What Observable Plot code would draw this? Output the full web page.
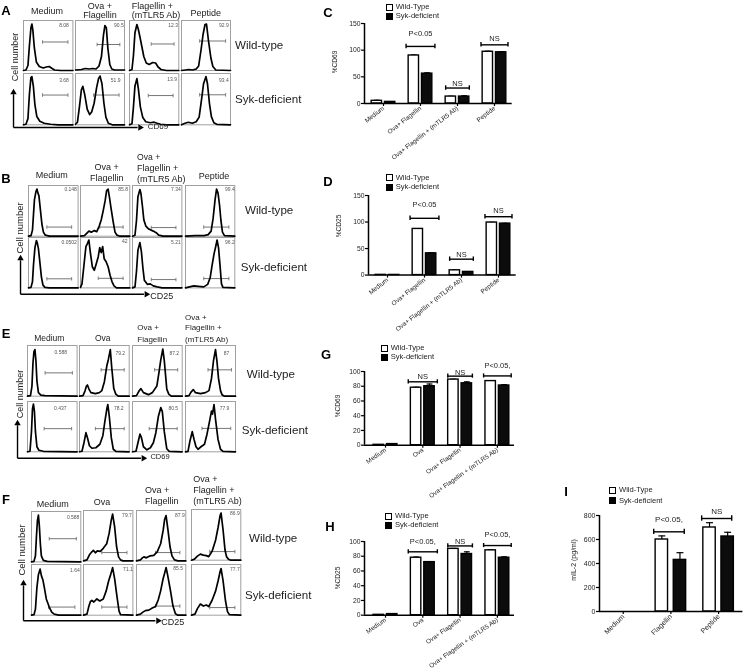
<!DOCTYPE html>
<html><head><meta charset="utf-8">
<script src="https://cdn.jsdelivr.net/npm/d3@7"></script>
<script src="https://cdn.jsdelivr.net/npm/@observablehq/plot@0.6"></script>
<style>
html,body{margin:0;padding:0;background:#fff;overflow:hidden}
#page{position:relative;width:743px;height:672px;overflow:hidden;font-family:"Liberation Sans",Arial,sans-serif;color:#222;filter:blur(.3px)}
#page svg{position:absolute;overflow:visible;background:transparent;max-width:none}
.t{position:absolute;white-space:pre;line-height:1}
.sw{position:absolute;box-sizing:border-box;width:7px;height:7px;border:1.5px solid #000}
</style></head><body><div id="page"></div>
<script>
// ---------- histogram data: flat x,y pairs, fractions of each panel ----------
const pctA=["8.08","90.5","12.3","92.9","3.68","51.9","13.9","93.4"];
const pctB=["0.148","85.8","7.34","99.4","0.0502","42","5.21","96.2"];
const pctE=["0.588","79.2","87.2","87","0.437","78.2","80.5","77.9"];
const pctF=["0.588","79.7","87.9","86.9","1.64","71.1","85.5","77.7"];

const curvesA=[
[0,0,.05,.01,.09,.1,.12,.5,.15,.85,.17,.93,.19,.8,.22,.45,.26,.17,.32,.08,.4,.05,.46,.07,.52,.08,.58,.04,.63,.01,.75,0,1,0],
[0,.01,.12,.02,.2,.04,.28,.03,.35,.04,.42,.03,.48,.09,.53,.28,.57,.7,.6,.9,.63,.85,.66,.45,.7,.12,.74,.03,.8,.01,1,.01],
[0,0,.05,.02,.08,.3,.11,.75,.15,.92,.18,.82,.21,.68,.25,.48,.29,.28,.34,.15,.4,.12,.47,.16,.53,.15,.58,.07,.64,.02,.75,0,1,0],
[0,0,.08,.01,.15,.02,.22,.01,.3,.03,.35,.09,.4,.42,.44,.72,.48,.92,.51,.93,.55,.6,.6,.25,.64,.08,.7,.01,1,0],
[0,0,.05,.01,.09,.12,.12,.6,.15,.92,.17,.94,.2,.75,.23,.4,.27,.16,.33,.07,.42,.03,.55,.01,.7,0,1,0],
[0,.01,.04,.05,.08,.35,.12,.68,.15,.75,.19,.58,.24,.3,.29,.2,.33,.25,.38,.42,.43,.72,.47,.9,.5,.95,.54,.8,.58,.42,.62,.15,.67,.03,.75,0,1,0],
[0,0,.05,.02,.08,.35,.11,.75,.15,.9,.18,.7,.22,.35,.27,.14,.33,.06,.42,.04,.5,.05,.56,.03,.63,.01,.75,0,1,0],
[0,0,.07,.03,.14,.05,.22,.03,.3,.06,.36,.15,.41,.5,.45,.8,.5,.94,.53,.8,.57,.42,.61,.16,.66,.04,.72,.01,1,0]];
const curvesB=[
[0,0,.05,.01,.08,.12,.1,.42,.12,.72,.15,.88,.17,.93,.19,.85,.21,.8,.24,.52,.27,.24,.3,.08,.34,.02,.42,0,1,0],
[0,0,.08,.01,.12,.05,.17,.1,.22,.08,.28,.11,.33,.09,.38,.2,.42,.32,.46,.5,.5,.7,.53,.9,.56,.93,.59,.75,.62,.55,.66,.3,.7,.08,.74,.02,.8,0,1,0],
[0,0,.05,.02,.08,.3,.11,.78,.15,.92,.17,.85,.2,.6,.23,.32,.27,.2,.33,.14,.42,.1,.48,.07,.53,.02,.62,0,1,0],
[0,0,.2,.01,.38,.01,.46,.03,.52,.1,.56,.35,.6,.72,.63,.93,.66,.85,.69,.62,.72,.3,.75,.08,.79,.01,1,0],
[0,0,.05,.01,.08,.12,.1,.45,.13,.8,.16,.94,.18,.88,.2,.78,.23,.5,.26,.22,.29,.06,.33,.01,.42,0,1,0],
[0,.01,.03,.08,.07,.45,.11,.82,.14,.88,.17,.95,.2,.7,.24,.42,.28,.35,.32,.48,.36,.62,.39,.8,.42,.7,.45,.82,.48,.58,.52,.52,.56,.42,.6,.25,.64,.12,.68,.04,.73,0,1,0],
[0,0,.05,.02,.08,.32,.11,.75,.15,.9,.18,.72,.21,.4,.24,.15,.3,.07,.36,.08,.42,.04,.5,.02,.6,0,1,0],
[0,0,.08,.02,.17,.04,.26,.03,.37,.02,.45,.07,.5,.2,.54,.45,.58,.68,.62,.85,.64,.95,.67,.8,.7,.45,.73,.08,.76,.01,1,0]];
const curvesE=[
[0,0,.06,.01,.09,.2,.11,.65,.13,.88,.15,.92,.17,.7,.19,.3,.22,.07,.27,.02,.35,.01,1,0],
[0,0,.07,.01,.11,.1,.14,.2,.16,.22,.19,.14,.23,.07,.32,.05,.4,.07,.45,.11,.5,.28,.55,.6,.58,.72,.62,.92,.65,.55,.69,.15,.73,.04,.78,0,1,0],
[0,0,.08,.01,.13,.1,.17,.15,.22,.07,.32,.03,.4,.07,.49,.2,.53,.45,.57,.72,.61,.93,.64,.7,.69,.14,.73,.04,.78,0,1,0],
[0,0,.07,.01,.11,.08,.155,.13,.2,.07,.3,.05,.4,.07,.47,.11,.52,.35,.56,.7,.6,.92,.63,.68,.66,.35,.7,.11,.73,.03,.78,0,1,0],
[0,0,.05,.01,.08,.4,.1,.85,.12,.95,.14,.8,.16,.4,.19,.1,.23,.03,.32,.01,1,0],
[0,0,.05,.01,.09,.18,.13,.38,.16,.28,.2,.12,.25,.07,.33,.08,.41,.15,.47,.32,.51,.6,.55,.85,.57,.94,.6,.7,.64,.28,.68,.05,.73,.01,1,0],
[0,0,.07,.01,.11,.18,.15,.35,.18,.28,.22,.1,.29,.04,.36,.08,.42,.18,.47,.38,.52,.7,.57,.88,.6,.8,.64,.4,.69,.06,.74,.01,1,0],
[0,0,.05,.01,.09,.22,.135,.4,.17,.25,.21,.1,.25,.05,.31,.1,.38,.15,.43,.35,.47,.55,.52,.81,.54,.75,.57,.94,.6,.65,.65,.25,.7,.05,.75,.01,1,0]];
const curvesF=[
[0,0,.05,.01,.08,.12,.1,.5,.12,.82,.14,.93,.16,.7,.18,.35,.2,.12,.24,.03,.32,.01,1,0],
[0,0,.07,.02,.12,.12,.17,.18,.2,.21,.24,.16,.28,.2,.34,.19,.4,.25,.47,.34,.52,.55,.56,.8,.59,.93,.63,.68,.67,.28,.71,.08,.75,.02,.8,0,1,0],
[0,0,.08,.02,.12,.06,.15,.08,.2,.06,.28,.1,.35,.11,.42,.18,.49,.34,.54,.6,.57,.82,.6,.9,.64,.6,.68,.28,.72,.1,.77,.02,.84,0,1,0],
[0,0,.06,.02,.12,.08,.18,.12,.24,.1,.3,.09,.35,.07,.42,.18,.49,.4,.54,.65,.58,.88,.6,.93,.64,.6,.68,.2,.71,.07,.75,.02,.8,0,1,0],
[0,0,.05,.01,.08,.12,.11,.55,.14,.8,.175,.91,.2,.78,.23,.7,.26,.55,.3,.32,.36,.16,.41,.06,.46,.02,.55,0,1,0],
[0,0,.07,.02,.11,.18,.14,.27,.17,.29,.21,.26,.27,.32,.33,.28,.4,.32,.46,.48,.51,.68,.55,.8,.59,.94,.63,.72,.68,.35,.72,.08,.75,.01,1,0],
[0,0,.08,.02,.13,.06,.18,.09,.25,.1,.32,.14,.385,.17,.44,.3,.49,.48,.54,.72,.58,.86,.6,.94,.63,.8,.69,.48,.74,.18,.79,.03,.84,0,1,0],
[0,0,.07,.02,.12,.13,.18,.22,.24,.18,.3,.2,.35,.17,.42,.3,.49,.48,.54,.68,.58,.86,.6,.92,.64,.68,.69,.28,.73,.07,.77,.01,1,0]];

// gate bars [x1,x2,y] and percent-label spots [x,y], panel fractions
const gatesA=[[.385,.9,.57],[.44,.905,.52],[.44,.905,.53],[.37,.9,.59],[.385,.9,.58],[.37,.89,.58],[.38,.885,.57],[.37,.9,.585]];
const gatesB=[[.37,.87,.18],[.39,.865,.18],[.38,.88,.17],[.37,.88,.18],[.37,.87,.18],[.36,.865,.19],[.38,.88,.165],[.37,.88,.185]];
const gatesE=[[.355,.905,.46],[.435,.9,.52],[.445,.91,.52],[.45,.92,.52],[.335,.89,.46],[.32,.9,.46],[.335,.9,.46],[.33,.905,.465]];
const gatesF=[[.36,.91,.46],[.37,.88,.165],[.385,.88,.165],[.37,.88,.17],[.345,.88,.16],[.37,.88,.16],[.385,.88,.18],[.37,.88,.15]];
const spotsA=[[.82,.9],[.885,.9],[.885,.9],[.865,.9],[.82,.86],[.82,.86],[.865,.89],[.865,.86]];
const spotsB=[[.85,.93],[.865,.93],[.88,.93],[.9,.93],[.82,.91],[.9,.93],[.88,.91],[.9,.91]];
const spotsE=[[.67,.87],[.82,.85],[.84,.85],[.82,.85],[.66,.86],[.79,.86],[.82,.86],[.78,.86]];
const spotsF=[[.845,.89],[.88,.91],[.88,.91],[.88,.93],[.88,.89],[.9,.91],[.845,.93],[.88,.91]];

// ---------- bar chart data ----------
const catsC=["Medium","Ova+ Flagellin","Ova+ Flagellin + (mTLR5 Ab)","Peptide"];
const catsG=["Medium","Ova","Ova+ Flagellin","Ova+ Flagellin + (mTLR5 Ab)"];
const catsI=["Medium","Flagellin","Peptide"];
const wtC=[5,90,13,97], kdC=[3,56,13,96], errWtC=[1,1,.5,1], errKdC=[.5,1.5,1.5,1];
const wtD=[.4,87,9,99], kdD=[.3,41,6,97], errWtD=[0,.5,.5,.5], errKdD=[0,.8,.5,.5];
const wtG=[.5,78,89,87], kdG=[1.5,80,84,81], errWtG=[0,.6,.6,.6], errKdG=[.2,3,2,1.2];
const wtH=[.5,78,90,88], kdH=[1.5,72,83,78], errWtH=[0,.8,.6,.8], errKdH=[.4,.5,3,1.2];
const wtI=[0,600,700], kdI=[0,430,625], errWtI=[0,30,40], errKdI=[0,60,35];
// brackets: category, half-span, bracket value, text value, text
const brC=[[1,.39,107,132,"P<0.05"],[2,.32,29,38,"NS"],[3,.365,110,122,"NS"]];
const brD=[[1,.39,107,132,"P<0.05"],[2,.32,30,38,"NS"],[3,.365,110,122,"NS"]];
const brG=[[1,.39,86,93,"NS"],[2,.33,93.7,99,"NS"],[3,.37,94,108.6,"P<0.05,"]];
const brH=[[1,.39,86,100.5,"P<0.05,"],[2,.33,94,99.5,"NS"],[3,.37,94.5,109,"P<0.05,"]];
const brI=[[.96,.32,664,769,"P<0.05,"],[1.96,.315,775,836,"NS"]];
const lg=["Wild-Type","Syk-deficient"];

// ---------- helpers ----------
const page=document.getElementById("page");
function put(text,x,y,o={}){
  const d=document.createElement("div");d.className="t";d.textContent=text;
  d.style.left=x+"px";d.style.top=y+"px";d.style.fontSize=(o.size||9)+"px";
  if(o.bold)d.style.fontWeight="bold";
  d.style.color=o.color||"#222";
  d.style.transform=(o.anchor==="start"?"translate(0,-50%)":"translate(-50%,-50%)")+(o.rot?` rotate(${o.rot}deg)`:"");
  page.appendChild(d);
}
function mount(svg,left,top){svg.style.left=left+"px";svg.style.top=top+"px";page.appendChild(svg);}

function hist(box,curve,gate,spot,pct){
  const [x0,y0,x1,y1]=box;
  const pts=d3.range(0,curve.length,2).map(i=>({x:curve[i],y:curve[i+1]}));
  const capH=.035;
  const svg=Plot.plot({width:x1-x0,height:y1-y0,margin:0,
    x:{domain:[0,1],axis:null},y:{domain:[0,1],axis:null},
    marks:[
      Plot.frame({stroke:"#a0a0a0",strokeWidth:1}),
      Plot.link([gate],{x1:d=>d[0],x2:d=>d[1],y1:d=>d[2],y2:d=>d[2],stroke:"#666",strokeWidth:.9}),
      Plot.link([gate[0],gate[1]].map(v=>({v,y:gate[2]})),{x1:"v",x2:"v",y1:d=>d.y-capH,y2:d=>d.y+capH,stroke:"#666",strokeWidth:.8}),
      Plot.line(pts,{x:"x",y:"y",stroke:"#000",strokeWidth:1.7}),
      Plot.text([pct],{x:()=>spot[0],y:()=>spot[1],text:d=>d,fontSize:5,fill:"#555",fontFamily:"Liberation Sans"})
    ]});
  mount(svg,x0,y0);
}
function block(cols,rows,curves,gates,spots,pcts){
  for(let i=0;i<8;i++){
    const c=cols[i%4], r=rows[i];
    hist([c[0],r[0],c[1],r[1]],curves[i],gates[i],spots[i],pcts[i]);
  }
}
function axesArrow(ox,oy,topY,rightX){
  const w=rightX-ox,h=oy-topY;
  const svg=Plot.plot({width:w,height:h,margin:0,x:{domain:[0,1],axis:null},y:{domain:[0,1],axis:null},
    marks:[
      Plot.link([[0,0,.98,0],[0,0,0,.95]],{x1:d=>d[0],y1:d=>d[1],x2:d=>d[2],y2:d=>d[3],stroke:"#000",strokeWidth:1.4}),
      Plot.dot([[1,0,90],[0,1,0]],{x:d=>d[0],y:d=>d[1],rotate:d=>d[2],symbol:"triangle",r:2.4,fill:"#000",stroke:"none"})
    ]});
  mount(svg,ox,topY);
}
function bars(L,cats,wt,kd,eW,eK,br,yTicks){
  const ml=30,mr=L.mr??8,mt=14,mb=78;
  const w=L.right-L.left+ml+mr,h=L.y0-L.yt+mt+mb;
  const off=L.off,bw=L.bw;
  const row=(vals,errs,sign,g)=>vals.map((v,i)=>({c:i,x:i+sign*off,v,e:errs[i],g}));
  const data=[...row(wt,eW,-1,"wt"),...row(kd,eK,1,"kd")];
  const withErr=data.filter(d=>d.e>0);
  const xd=[(L.left-L.t0)/L.step,(L.right-L.t0)/L.step];
  const capX=bw*.28;
  const font="Liberation Sans";
  const svg=Plot.plot({width:w,height:h,marginLeft:ml,marginRight:mr,marginTop:mt,marginBottom:mb,
    x:{domain:xd,axis:null},y:{domain:[0,L.ymax],axis:null},
    marks:[
      Plot.ruleX(withErr,{x:"x",y1:"v",y2:d=>d.v+d.e,stroke:"#000",strokeWidth:1.2}),
      Plot.link(withErr,{x1:d=>d.x-capX,x2:d=>d.x+capX,y1:d=>d.v+d.e,y2:d=>d.v+d.e,stroke:"#000",strokeWidth:1.2}),
      Plot.rectY(data.filter(d=>d.v>0),{x1:d=>d.x-bw/2,x2:d=>d.x+bw/2,y1:0,y2:"v",fill:d=>d.g==="wt"?"#fff":"#0c0c0c",stroke:"#000",strokeWidth:1.4}),
      Plot.ruleY([0],{stroke:"#000",strokeWidth:1.5}),
      Plot.ruleX([xd[0]],{y1:0,y2:L.ymax,stroke:"#000",strokeWidth:1.5}),
      Plot.axisY({ticks:yTicks,tickSize:3,tickPadding:1,label:null,fontSize:L.tf||6.8,fontFamily:font,stroke:"#000",strokeWidth:1.2,color:"#222"}),
      Plot.axisX({ticks:cats.map((_,i)=>i),tickFormat:i=>cats[i],tickSize:3,tickPadding:1,tickRotate:L.rot||-38,label:null,fontSize:L.cf||6.4,fontFamily:font,stroke:"#000",strokeWidth:1.2}),
      Plot.link(br,{x1:d=>d[0]-d[1],x2:d=>d[0]+d[1],y1:d=>d[2],y2:d=>d[2],stroke:"#000",strokeWidth:1.4}),
      Plot.ruleX(br.flatMap(d=>[{x:d[0]-d[1],y:d[2]},{x:d[0]+d[1],y:d[2]}]),{x:"x",y1:d=>d.y-L.ymax*.028,y2:d=>d.y+L.ymax*.028,stroke:"#000",strokeWidth:1.4}),
      Plot.text(br,{x:d=>d[0],y:d=>d[3],text:d=>d[4],fontSize:L.bf||7.5,fontFamily:font,fill:"#222"})
    ]});
  mount(svg,L.left-ml,L.yt-mt);
}
function legend(x,y1,y2,tx){
  const mk=(y,fill)=>{const s=document.createElement("div");s.className="sw";s.style.left=(x-3.5)+"px";s.style.top=(y-3.5)+"px";s.style.background=fill;page.appendChild(s);};
  mk(y1,"#fff");mk(y2,"#000");
  put(lg[0],tx,y1,{anchor:"start",size:7.6});put(lg[1],tx,y2,{anchor:"start",size:7.6});
}

// ---------- panel letters ----------
[["A",6,10],["C",328,12],["B",6,178],["D",328,181],["E",6,333],["G",326,354],["F",6,499],["H",330,526],["I",566,491]]
  .forEach(([t,x,y])=>put(t,x,y,{size:13,bold:true,color:"#000"}));

// ---------- block A ----------
block([[23.3,72.7],[75,124],[129,178.3],[181,230]],
  Array(4).fill([20,70]).concat(Array(4).fill([72.7,124])),curvesA,gatesA,spotsA,pctA);
put("Medium",47,11);put("Ova +",100,5.5);put("Flagellin",100,14.5);
put("Flagellin +",131.7,5.5,{anchor:"start"});put("(mTLR5 Ab)",131.7,14.5,{anchor:"start"});put("Peptide",205.7,13);
put("Wild-type",235,45,{anchor:"start",size:11.6});put("Syk-deficient",235,99,{anchor:"start",size:11.6});
axesArrow(13.3,126.7,91.7,140);put("Cell number",15,56.7,{rot:-90});put("CD69",158,127,{size:8});

// ---------- block B ----------
block([[27.7,77.3],[80,129.3],[132.3,181.7],[185,234.3]],
  Array(4).fill([185,235.7]).concat(Array(4).fill([237.3,287.7])),curvesB,gatesB,spotsB,pctB);
put("Medium",51.7,175);put("Ova +",106.7,167);put("Flagellin",106.7,178);
put("Ova +",137,157,{anchor:"start",size:8.6});put("Flagellin +",137,168,{anchor:"start"});put("(mTLR5 Ab)",137,179,{anchor:"start"});put("Peptide",214,175.7);
put("Wild-type",245,210,{anchor:"start",size:11.6});put("Syk-deficient",240.7,266.7,{anchor:"start",size:11.6});
axesArrow(20,294,258.3,146);put("Cell number",20,228,{rot:-90,size:9.5});put("CD25",161.7,295.7,{size:9});

// ---------- block E ----------
block([[26.7,76.3],[79.3,129],[132.3,182],[185,235]],
  Array(4).fill([345,395.7]).concat(Array(4).fill([400.7,451])),curvesE,gatesE,spotsE,pctE);
put("Medium",49.3,338,{size:8.5});put("Ova",102.7,338,{size:8.5});
put("Ova +",137.3,328,{anchor:"start",size:8});put("Flagellin",137.3,339.7,{anchor:"start",size:8});
put("Ova +",185,317.7,{anchor:"start",size:8});put("Flagellin +",185,328,{anchor:"start",size:8});put("(mTLR5 Ab)",185,339.7,{anchor:"start",size:8});
put("Wild-type",246.7,374.3,{anchor:"start",size:11.6});put("Syk-deficient",241.7,430,{anchor:"start",size:11.6});
axesArrow(17.3,457.7,423,143.3);put("Cell number",20,394,{rot:-90,size:9});put("CD69",160,457,{size:7.5});

// ---------- block F ----------
block([[30.7,80],[83.3,132.7],[136,185.3],[191,240.3]],
  [[511.3,561.7],[510.3,560.7],[510.3,560.7],[509.3,560]].concat(Array(4).fill([564,614.7])),curvesF,gatesF,spotsF,pctF);
put("Medium",52.7,504);put("Ova",102,502);
put("Ova +",145,490,{anchor:"start"});put("Flagellin",145,500.5,{anchor:"start"});
put("Ova +",193.3,479,{anchor:"start"});put("Flagellin +",193.3,490,{anchor:"start"});put("(mTLR5 Ab)",193.3,500.5,{anchor:"start"});
put("Wild-type",249,537.7,{anchor:"start",size:11.6});put("Syk-deficient",245,595,{anchor:"start",size:11.6});
axesArrow(22.7,620,582.7,157.3);put("Cell number",22,550,{rot:-90,size:9.5});put("CD25",172.7,622,{size:9});

// ---------- bar charts ----------
bars({left:364,right:511.7,t0:383,step:37,y0:102.7,yt:22.7,ymax:150,off:.18,bw:.28},catsC,wtC,kdC,errWtC,errKdC,brC,[0,50,100,150]);
put("%CD69",335,62,{rot:-90,size:6.6});legend(389,7,16,395.7);

bars({left:368,right:515.7,t0:387,step:37,y0:274.3,yt:194.7,ymax:150,off:.18,bw:.28},catsC,wtD,kdD,errWtD,errKdD,brD,[0,50,100,150]);
put("%CD25",339,226,{rot:-90,size:6.6});legend(389,177.7,187,395.7);

bars({left:364,right:514,t0:385,step:37.3,y0:444.7,yt:371,ymax:100,off:.18,bw:.28,rot:-35},catsG,wtG,kdG,errWtG,errKdG,brG,[0,20,40,60,80,100]);
put("%CD69",338,406,{rot:-90,size:6.6});legend(384,348,357,390.7);

bars({left:364,right:514,t0:385,step:37.3,y0:615,yt:541.3,ymax:100,off:.18,bw:.28,rot:-35},catsG,wtH,kdH,errWtH,errKdH,brH,[0,20,40,60,80,100]);
put("%CD25",338,578,{rot:-90,size:6.6});legend(388.3,516,525,395);

bars({left:599.3,right:742.7,t0:623,step:47.7,y0:611,yt:515,ymax:800,off:.19,bw:.26,mr:0,tf:7,cf:7,bf:8,rot:-45},catsI,wtI,kdI,errWtI,errKdI,brI,[0,200,400,600,800]);
put("mIL-2 (pg/ml)",573,560,{rot:-90,size:7});legend(612.7,490,500.7,619);
</script></body></html>
